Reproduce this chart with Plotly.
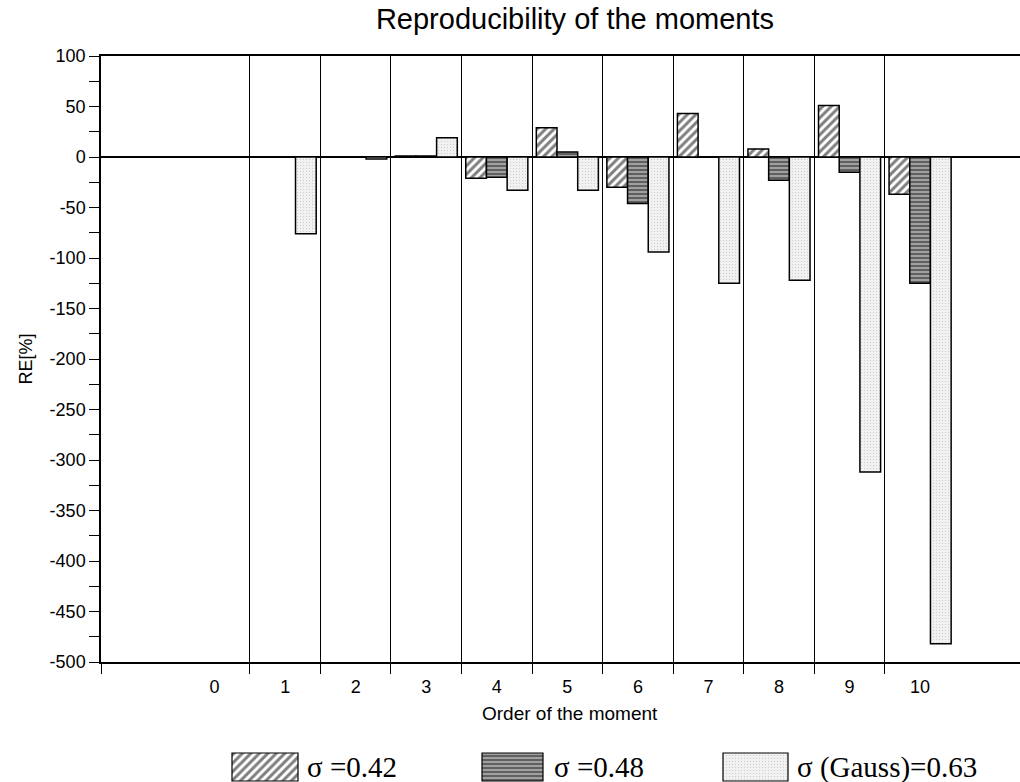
import plotly.graph_objects as go

# Relative error of the reconstructed moments, per order of the moment
orders = [0, 1, 2, 3, 4, 5, 6, 7, 8, 9, 10]
order_labels = ["0", "1", "2", "3", "4", "5", "6", "7", "8", "9", "10"]
re_sigma_042 = [0, 0, 0, 1, -21, 29, -30, 43, 8, 51, -37]
re_sigma_048 = [0, 0, 0, 1, -20, 5, -46, 0, -23, -15, -125]
re_gauss_063 = [0, -76, -2, 19, -33, -33, -94, -125, -122, -312, -482]

y_tick_values = list(range(-500, 101, 50))
y_tick_labels = [str(v) for v in y_tick_values]
y_minor_values = list(range(-475, 100, 50))

series_names = ["\u03c3 =0.42", "\u03c3 =0.48", "\u03c3 (Gauss)=0.63"]

W, H = 1020, 782
M_LEFT, M_TOP = 101, 56
AXIS_BOTTOM_PX = 662
plot_h = H - M_TOP
main_bottom = (H - AXIS_BOTTOM_PX) / plot_h
legend_h = 40

px_per_unit = 70.55
x_zero_px = 214.6
x_lo = (M_LEFT - x_zero_px) / px_per_unit
x_hi = (W - x_zero_px) / px_per_unit

patterns = [
    dict(shape="/", size=6, solidity=0.5, fgcolor="black", bgcolor="white"),
    dict(shape="-", size=4, solidity=0.45, fgcolor="#111111", bgcolor="#a0a0a0"),
    dict(shape=".", size=3, solidity=0.12, fgcolor="#9a9a9a", bgcolor="#f1f1f1"),
]
outline = dict(color="black", width=1.5)

fig = go.Figure()
for name, vals, pat in zip(series_names, [re_sigma_042, re_sigma_048, re_gauss_063], patterns):
    fig.add_trace(go.Bar(
        x=orders, y=vals, name=name,
        marker=dict(color=pat["bgcolor"], pattern=pat, line=outline),
        showlegend=False,
    ))

# Legend key drawn in its own strip under the chart (pixel-like coordinates)
legend_keys = [
    dict(x0=232, x1=298, text_x=305),
    dict(x0=482, x1=543, text_x=552),
    dict(x0=723, x1=788, text_x=795),
]
for name, pat, key in zip(series_names, patterns, legend_keys):
    fig.add_trace(go.Bar(
        x=[(key["x0"] + key["x1"]) / 2], y=[28], base=[1],
        width=[key["x1"] - key["x0"]],
        xaxis="x2", yaxis="y2",
        marker=dict(color=pat["bgcolor"], pattern=pat, line=dict(color="black", width=1.2)),
        showlegend=False, hoverinfo="skip",
    ))
    fig.add_annotation(
        x=key["text_x"], y=15, xref="x2", yref="y2",
        text=name, showarrow=False, xanchor="left", yanchor="middle",
        font=dict(family="Liberation Serif", size=29, color="black"),
    )

# x-axis title placed as an annotation so it sits under the labelled orders
fig.add_annotation(
    x=(570 - M_LEFT) / (W - M_LEFT), y=(H - 713) / plot_h,
    xref="paper", yref="paper", text="Order of the moment", showarrow=False,
    xanchor="center", yanchor="middle",
    font=dict(family="Liberation Sans", size=19, color="black"),
)

fig.update_layout(
    width=W, height=H,
    margin=dict(l=M_LEFT, r=0, t=M_TOP, b=0, autoexpand=False),
    paper_bgcolor="white", plot_bgcolor="white",
    barmode="group", bargap=0.12, bargroupgap=0,
    font=dict(family="Liberation Sans", size=18, color="black"),
    title=dict(
        text="Reproducibility of the moments",
        x=575 / W, xref="container", xanchor="center",
        y=1 - 19 / H, yref="container", yanchor="middle",
        font=dict(family="Liberation Sans", size=29, color="black"),
    ),
    xaxis=dict(
        domain=[0, 1], range=[x_lo, x_hi], automargin=False,
        tickmode="array", tickvals=orders, ticktext=order_labels,
        ticks="", ticklabelstandoff=8,
        tickfont=dict(family="Liberation Sans", size=18),
        showgrid=False, zeroline=False,
        showline=True, linecolor="black", linewidth=1.5, mirror=True,
        minor=dict(
            tickmode="array",
            tickvals=[x_lo] + [o + 0.5 for o in orders[:-1]],
            ticks="outside", ticklen=10, tickcolor="black", tickwidth=1.2,
            showgrid=True, gridcolor="black", gridwidth=1,
        ),
        anchor="y",
    ),
    yaxis=dict(
        domain=[main_bottom, 1], range=[-500, 100], automargin=False,
        tickmode="array", tickvals=y_tick_values, ticktext=y_tick_labels,
        tickfont=dict(family="Liberation Sans", size=18),
        ticks="outside", ticklen=10, tickcolor="black", tickwidth=1.2,
        minor=dict(tickmode="array", tickvals=y_minor_values,
                   ticks="outside", ticklen=10, tickcolor="black", tickwidth=1.2,
                   showgrid=False),
        showgrid=False,
        zeroline=True, zerolinecolor="black", zerolinewidth=1.6,
        showline=True, linecolor="black", linewidth=1.5,
        title=dict(text="RE[%]", standoff=12,
                   font=dict(family="Liberation Sans", size=18)),
        anchor="x",
    ),
    xaxis2=dict(domain=[0, 1], range=[M_LEFT, W], visible=False, anchor="y2",
                fixedrange=True, automargin=False),
    yaxis2=dict(domain=[0, legend_h / plot_h], range=[0, legend_h], visible=False, anchor="x2",
                fixedrange=True, automargin=False),
)

fig.write_html("out.html")
